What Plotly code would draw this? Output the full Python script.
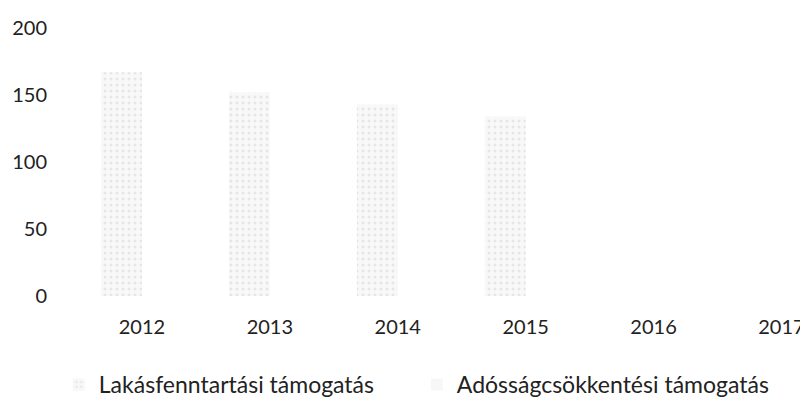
import plotly.graph_objects as go

years = ["2012", "2013", "2014", "2015", "2016", "2017"]
lakas = [167, 152, 143, 134, None, None]
adossag = [None, None, None, None, None, None]
y_ticks = [0, 50, 100, 150, 200]

FONT = "Lato"

fig = go.Figure()
fig.add_trace(go.Bar(
    x=years, y=lakas, name="Lakásfenntartási támogatás",
    marker=dict(color="#f5f5f5", line=dict(width=0),
                pattern=dict(shape=".", fgcolor="#d2d2d2", bgcolor="#f8f8f8",
                             size=6, solidity=0.2)),
))
fig.add_trace(go.Bar(
    x=years, y=adossag, name="Adósságcsökkentési támogatás",
    marker=dict(color="#f7f7f7", line=dict(width=0)),
))

fig.update_layout(
    width=808, height=400,
    margin=dict(l=70, r=0, t=20, b=112, autoexpand=False),
    paper_bgcolor="white", plot_bgcolor="white",
    barmode="group", bargap=0.36, bargroupgap=0,
    font=dict(family=FONT, size=20, color="#222222"),
    showlegend=True,
    legend=dict(orientation="h", x=-0.026, xanchor="left", y=-0.25, yanchor="top",
                entrywidth=313, entrywidthmode="pixels",
                font=dict(family=FONT, size=23, color="#222222")),
)
fig.update_xaxes(type="category", range=[-0.5, 5.27], showgrid=False, showline=False,
                 zeroline=False, ticks="", ticklabelstandoff=17, automargin=False)
fig.update_yaxes(range=[0, 200], tickvals=y_ticks, showgrid=False, showline=False,
                 zeroline=False, ticks="", ticklabelstandoff=30, automargin=False)

fig.write_html("out.html")
